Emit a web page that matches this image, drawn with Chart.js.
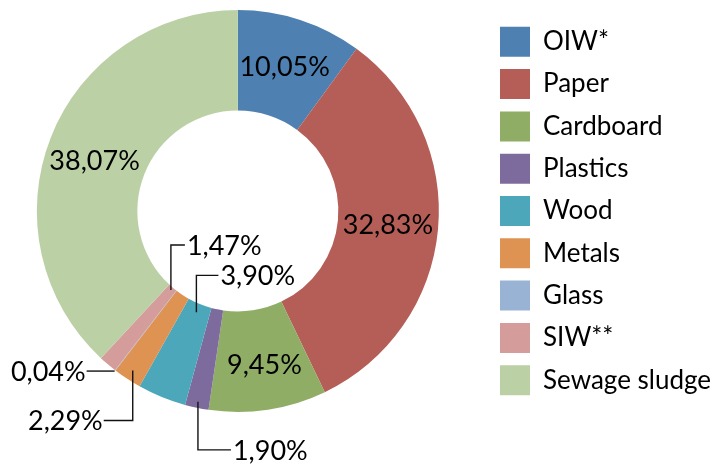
<!DOCTYPE html>
<html>
<head>
<meta charset="utf-8">
<script src="https://cdn.jsdelivr.net/npm/chart.js@4.4.0/dist/chart.umd.min.js"></script>
<style>
  html, body { margin: 0; padding: 0; background: #fff; }
  #wrap { width: 724px; height: 466px; }
</style>
</head>
<body>
<div id="wrap"><canvas id="myDoughnut" width="724" height="466"></canvas></div>
<script>
// waste fractions, percent of total
var categories = ['OIW*', 'Paper', 'Cardboard', 'Plastics', 'Wood', 'Metals', 'Glass', 'SIW**', 'Sewage sludge'];
var shares = [10.05, 32.83, 9.45, 1.90, 3.90, 2.29, 0.04, 1.47, 38.07];
var sliceColors = ['#4E80B1', '#B55E57', '#8FAD65', '#7E6B9E', '#4BA7B9', '#DF9352', '#98B3D4', '#D49C9B', '#BBD1A5'];

// how each value label is placed: inside the ring, or pulled out with an elbow line
// path steps are relative offsets from the start point on the slice
var labelPlacement = [
    { mode: 'in' },
    { mode: 'in' },
    { mode: 'in', dx: 4, dy: 5 },
    { mode: 'out', from: 'outer', dr: -6, path: [[0, 48], [33, 0]], align: 'left' },
    { mode: 'out', from: 'inner', dr: 9, path: [[0, -37], [22, 0]], align: 'left' },
    { mode: 'out', from: 'outer', dr: -10, path: [[0, 50], [-29, 0]], align: 'right' },
    { mode: 'out', from: 'outer', dr: 1, path: [[-28, 0]], align: 'right' },
    { mode: 'out', from: 'inner', dr: 3, path: [[0, -45], [14, 0]], align: 'left' },
    { mode: 'in', dx: -3, dy: 5 }
];

var fontFamily = 'Lato, "Noto Sans", sans-serif';

function fmt(v) {
    return v.toFixed(2).replace('.', ',') + '%';
}

// the ring sits a little left of the middle of the space the legend leaves
var nudgeArea = {
    id: 'nudgeArea',
    afterLayout: function (chart) {
        chart.chartArea.left -= 6;
        chart.chartArea.right -= 6;
    }
};

// draws the percentage labels and leader lines
var valueLabels = {
    id: 'valueLabels',
    afterDatasetsDraw: function (chart) {
        var ctx = chart.ctx;
        var arcs = chart.getDatasetMeta(0).data;
        ctx.save();
        ctx.font = '27px ' + fontFamily;
        ctx.fillStyle = '#000';
        ctx.strokeStyle = '#111';
        ctx.lineWidth = 1.4;
        ctx.textBaseline = 'middle';
        arcs.forEach(function (arc, i) {
            var p = labelPlacement[i];
            var txt = fmt(shares[i]);
            if (p.mode === 'in') {
                var c = arc.getCenterPoint();
                ctx.textAlign = 'center';
                ctx.fillText(txt, c.x + (p.dx || 0), c.y + (p.dy || 0));
                return;
            }
            var props = arc.getProps(['x', 'y', 'startAngle', 'endAngle', 'innerRadius', 'outerRadius'], true);
            var mid = (props.startAngle + props.endAngle) / 2;
            var r = (p.from === 'inner' ? props.innerRadius : props.outerRadius) + p.dr;
            var x = props.x + Math.cos(mid) * r;
            var y = props.y + Math.sin(mid) * r;
            ctx.beginPath();
            ctx.moveTo(x, y);
            p.path.forEach(function (s) {
                x += s[0];
                y += s[1];
                ctx.lineTo(x, y);
            });
            ctx.stroke();
            ctx.textAlign = p.align;
            ctx.fillText(txt, p.align === 'left' ? x + 2 : x - 1, y + 1);
        });
        ctx.restore();
    }
};

var ctx = document.getElementById('myDoughnut').getContext('2d');

var myDoughnut = new Chart(ctx, {
    type: 'doughnut',
    data: {
        labels: categories,
        datasets: [{
            data: shares,
            backgroundColor: sliceColors,
            borderWidth: 0
        }]
    },
    options: {
        responsive: false,
        animation: false,
        cutout: '50%',
        layout: {
            padding: { top: 10, bottom: 54, left: 0, right: 3 }
        },
        plugins: {
            tooltip: { enabled: false },
            legend: {
                position: 'right',
                labels: {
                    boxWidth: 30,
                    boxHeight: 30,
                    padding: 12.3,
                    color: '#000',
                    font: { size: 26, family: fontFamily }
                }
            }
        }
    },
    plugins: [nudgeArea, valueLabels]
});
</script>
</body>
</html>
